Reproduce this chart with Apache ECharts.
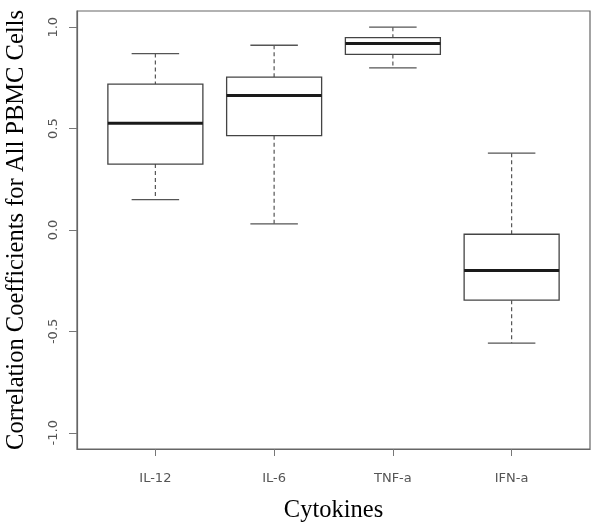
<!DOCTYPE html>
<html>
<head>
<meta charset="utf-8">
<script src="https://cdn.jsdelivr.net/npm/echarts@6/dist/echarts.min.js"></script>
<style>
html,body{margin:0;padding:0;background:#fff;}
#chart{width:600px;height:528px;}
</style>
</head>
<body>
<div id="chart"></div>
<script>
const categories = ['IL-12', 'IL-6', 'TNF-a', 'IFN-a'];
const whiskerLow = [0.150, 0.030, 0.800, -0.558];
const q1 = [0.325, 0.465, 0.866, -0.346];
const median = [0.526, 0.663, 0.920, -0.200];
const q3 = [0.719, 0.754, 0.949, -0.021];
const whiskerHigh = [0.870, 0.911, 1.000, 0.379];
const yTicks = [-1.0, -0.5, 0.0, 0.5, 1.0];
const xTicks = [1, 2, 3, 4];

const data = categories.map((c, i) => [i + 1, whiskerLow[i], q1[i], median[i], q3[i], whiskerHigh[i]]);

const chart = echarts.init(document.getElementById('chart'), null, {renderer: 'canvas'});

function renderItem(params, api) {
  const x = api.value(0);
  const pLow = api.coord([x, api.value(1)]);
  const pQ1 = api.coord([x, api.value(2)]);
  const pMed = api.coord([x, api.value(3)]);
  const pQ3 = api.coord([x, api.value(4)]);
  const pHigh = api.coord([x, api.value(5)]);
  const halfBox = api.size([0.4, 0])[0];
  const halfCap = api.size([0.2, 0])[0];
  const cx = pMed[0];
  const lineColor = '#444';
  return {
    type: 'group',
    children: [
      {type: 'line', shape: {x1: cx, y1: pHigh[1], x2: cx, y2: pQ3[1]},
       style: {stroke: '#555', lineWidth: 1.2, lineDash: [4, 3]}},
      {type: 'line', shape: {x1: cx, y1: pQ1[1], x2: cx, y2: pLow[1]},
       style: {stroke: '#555', lineWidth: 1.2, lineDash: [4, 3]}},
      {type: 'line', shape: {x1: cx - halfCap, y1: pHigh[1], x2: cx + halfCap, y2: pHigh[1]},
       style: {stroke: '#555', lineWidth: 1.3}},
      {type: 'line', shape: {x1: cx - halfCap, y1: pLow[1], x2: cx + halfCap, y2: pLow[1]},
       style: {stroke: '#555', lineWidth: 1.3}},
      {type: 'rect', shape: {x: cx - halfBox, y: pQ3[1], width: 2 * halfBox, height: pQ1[1] - pQ3[1]},
       style: {fill: '#fff', stroke: lineColor, lineWidth: 1.3}},
      {type: 'line', shape: {x1: cx - halfBox, y1: pMed[1], x2: cx + halfBox, y2: pMed[1]},
       style: {stroke: '#1a1a1a', lineWidth: 3}}
    ]
  };
}

chart.setOption({
  animation: false,
  backgroundColor: '#fff',
  grid: {left: 77, right: 10, top: 11, bottom: 79, containLabel: false, outerBoundsMode: 'none',
    show: true, borderColor: '#666', borderWidth: 1.2, backgroundColor: 'transparent'},
  xAxis: {
    type: 'value', min: 0.34, max: 4.66,
    name: 'Cytokines', nameLocation: 'middle', nameGap: 49,
    nameTextStyle: {fontFamily: 'Liberation Serif', fontSize: 24.5, color: '#000'},
    axisLine: {show: true, onZero: false, lineStyle: {color: '#666', width: 1.2}},
    axisTick: {show: true, length: 7, customValues: xTicks, lineStyle: {color: '#777'}},
    axisLabel: {customValues: xTicks, margin: 23, fontFamily: 'DejaVu Sans', fontSize: 13, color: '#555',
      formatter: v => categories[Math.round(v) - 1] || ''},
    splitLine: {show: false}
  },
  yAxis: {
    type: 'value', min: -1.08, max: 1.08,
    name: 'Correlation Coefficients for All PBMC Cells', nameLocation: 'middle', nameGap: 48,
    nameTextStyle: {fontFamily: 'Liberation Serif', fontSize: 24.5, color: '#000'},
    axisLine: {show: true, onZero: false, lineStyle: {color: '#666', width: 1.2}},
    axisTick: {show: true, length: 8, customValues: yTicks, lineStyle: {color: '#777'}},
    axisLabel: {customValues: yTicks, margin: 17, rotate: 90, fontFamily: 'DejaVu Sans', fontSize: 13, color: '#555',
      formatter: v => v.toFixed(1)},
    splitLine: {show: false}
  },
  series: [{
    type: 'custom',
    renderItem: renderItem,
    encode: {x: 0, y: [1, 2, 3, 4, 5]},
    data: data
  }]
});
</script>
</body>
</html>
